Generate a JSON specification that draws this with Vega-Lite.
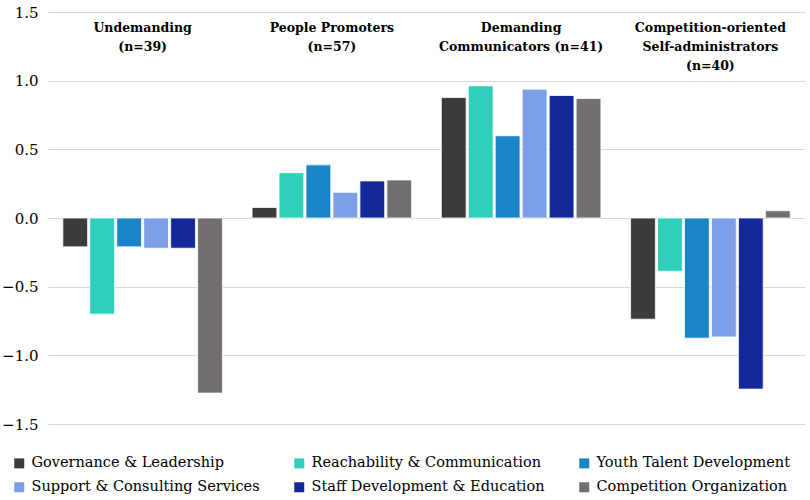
{
  "$schema": "https://vega.github.io/schema/vega-lite/v6.json",
  "width": 757,
  "height": 412,
  "autosize": "none",
  "padding": {"left": 48, "top": 12, "right": 5, "bottom": 76},
  "background": "white",
  "data": {
    "values": [
      {"group": "Undemanding", "dimension": "Governance & Leadership", "score": -0.21},
      {"group": "Undemanding", "dimension": "Reachability & Communication", "score": -0.70},
      {"group": "Undemanding", "dimension": "Youth Talent Development", "score": -0.21},
      {"group": "Undemanding", "dimension": "Support & Consulting Services", "score": -0.22},
      {"group": "Undemanding", "dimension": "Staff Development & Education", "score": -0.22},
      {"group": "Undemanding", "dimension": "Competition Organization", "score": -1.275},
      {"group": "People Promoters", "dimension": "Governance & Leadership", "score": 0.077},
      {"group": "People Promoters", "dimension": "Reachability & Communication", "score": 0.33},
      {"group": "People Promoters", "dimension": "Youth Talent Development", "score": 0.387},
      {"group": "People Promoters", "dimension": "Support & Consulting Services", "score": 0.187},
      {"group": "People Promoters", "dimension": "Staff Development & Education", "score": 0.27},
      {"group": "People Promoters", "dimension": "Competition Organization", "score": 0.277},
      {"group": "Demanding Communicators", "dimension": "Governance & Leadership", "score": 0.877},
      {"group": "Demanding Communicators", "dimension": "Reachability & Communication", "score": 0.962},
      {"group": "Demanding Communicators", "dimension": "Youth Talent Development", "score": 0.599},
      {"group": "Demanding Communicators", "dimension": "Support & Consulting Services", "score": 0.938},
      {"group": "Demanding Communicators", "dimension": "Staff Development & Education", "score": 0.892},
      {"group": "Demanding Communicators", "dimension": "Competition Organization", "score": 0.87},
      {"group": "Competition-oriented", "dimension": "Governance & Leadership", "score": -0.737},
      {"group": "Competition-oriented", "dimension": "Reachability & Communication", "score": -0.388},
      {"group": "Competition-oriented", "dimension": "Youth Talent Development", "score": -0.875},
      {"group": "Competition-oriented", "dimension": "Support & Consulting Services", "score": -0.866},
      {"group": "Competition-oriented", "dimension": "Staff Development & Education", "score": -1.246},
      {"group": "Competition-oriented", "dimension": "Competition Organization", "score": 0.053}
    ]
  },
  "encoding": {
    "x": {
      "field": "group",
      "type": "nominal",
      "sort": ["Undemanding", "People Promoters", "Demanding Communicators", "Competition-oriented"],
      "scale": {"paddingInner": 0, "paddingOuter": 0},
      "axis": null
    }
  },
  "layer": [
    {
      "mark": {"type": "bar", "stroke": "white", "strokeWidth": 0.8},
      "encoding": {
        "xOffset": {
          "field": "dimension",
          "type": "nominal",
          "sort": ["Governance & Leadership", "Reachability & Communication", "Youth Talent Development", "Support & Consulting Services", "Staff Development & Education", "Competition Organization"],
          "scale": {"paddingInner": 0.08, "paddingOuter": 0.55}
        },
        "y": {
          "field": "score",
          "type": "quantitative",
          "scale": {"domain": [-1.5, 1.5], "nice": false},
          "axis": {
            "values": [-1.5, -1, -0.5, 0, 0.5, 1, 1.5],
            "format": ".1f",
            "title": null,
            "domain": false,
            "ticks": false,
            "labelPadding": 10,
            "labelFont": "DejaVu Serif",
            "labelFontSize": 15,
            "labelColor": "black",
            "gridColor": "#d9d9d9",
            "gridWidth": 1.2
          }
        },
        "color": {
          "field": "dimension",
          "type": "nominal",
          "sort": ["Governance & Leadership", "Reachability & Communication", "Youth Talent Development", "Support & Consulting Services", "Staff Development & Education", "Competition Organization"],
          "scale": {"range": ["#3b3b3b", "#2fcfb9", "#1a84c9", "#7d9fe8", "#14289a", "#736f6f"]},
          "legend": {
            "title": null,
            "orient": "none",
            "legendX": -36,
            "legendY": 444,
            "direction": "horizontal",
            "columns": 3,
            "columnPadding": 32,
            "rowPadding": 9,
            "symbolType": "square",
            "symbolSize": 100,
            "symbolStrokeWidth": 0,
            "labelFont": "DejaVu Serif",
            "labelFontSize": 14.5,
            "labelColor": "black",
            "labelOffset": 5,
            "labelLimit": 300
          }
        }
      }
    },
    {
      "data": {
        "values": [
          {"group": "Undemanding", "label": "Undemanding\n(n=39)"},
          {"group": "People Promoters", "label": "People Promoters\n(n=57)"},
          {"group": "Demanding Communicators", "label": "Demanding\nCommunicators (n=41)"},
          {"group": "Competition-oriented", "label": "Competition-oriented\nSelf-administrators\n(n=40)"}
        ]
      },
      "mark": {
        "type": "text",
        "font": "DejaVu Serif",
        "fontSize": 12.5,
        "fontWeight": "bold",
        "baseline": "top",
        "align": "center",
        "lineBreak": "\n",
        "lineHeight": 19,
        "color": "black"
      },
      "encoding": {
        "y": {"datum": 1.43},
        "text": {"field": "label"}
      }
    }
  ],
  "config": {
    "view": {"stroke": null}
  }
}
